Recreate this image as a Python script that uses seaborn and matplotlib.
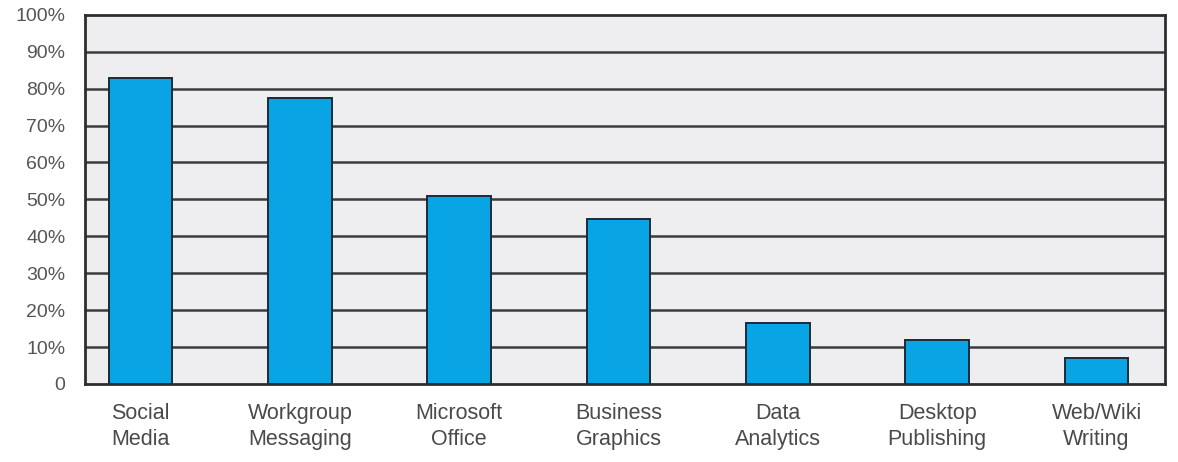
import matplotlib
matplotlib.use('Agg')
import matplotlib.pyplot as plt
import seaborn as sns
import pandas as pd

# ── données ──
categories = ['Social\nMedia', 'Workgroup\nMessaging', 'Microsoft\nOffice',
              'Business\nGraphics', 'Data\nAnalytics', 'Desktop\nPublishing',
              'Web/Wiki\nWriting']
pourcentages = [83, 77.5, 51, 44.8, 16.4, 12, 7]
ticks_y = [0, 10, 20, 30, 40, 50, 60, 70, 80, 90, 100]
labels_y = ['0', '10%', '20%', '30%', '40%', '50%', '60%', '70%',
            '80%', '90%', '100%']

df = pd.DataFrame({'Outil': categories, 'Pct': pourcentages})

sns.set_style('white')
plt.rcParams['font.family'] = ['Liberation Sans', 'DejaVu Sans']

fig = plt.figure(figsize=(11.78, 4.62), dpi=100)
ax = fig.add_axes([0.072, 0.169, 0.917, 0.799])
ax.set_facecolor('#EEEEF0')

# grille horizontale sombre sous les barres
for t in ticks_y[1:-1]:
    ax.axhline(t, color='#3C3C3C', linewidth=1.8, zorder=1)

sns.barplot(data=df, x='Outil', y='Pct', color='#08A4E4',
            edgecolor='#1C2A38', linewidth=1.4, width=0.4,
            saturation=1, ax=ax, zorder=2)

ax.set_xlim(-0.35, 6.43)
ax.set_ylim(0, 100)
ax.set_yticks(ticks_y)
ax.set_yticklabels(labels_y, color='#555555', fontsize=14)
ax.tick_params(axis='x', labelsize=15.5, labelcolor='#4A4A4A',
               length=0, pad=14)
for lab in ax.get_xticklabels():
    lab.set_linespacing(1.3)
ax.tick_params(axis='y', length=0, pad=14)
ax.set_xlabel('')
ax.set_ylabel('')

for s in ax.spines.values():
    s.set_visible(True)
    s.set_color('#2E2E2E')
    s.set_linewidth(2)

plt.savefig('out.png', dpi=100)
